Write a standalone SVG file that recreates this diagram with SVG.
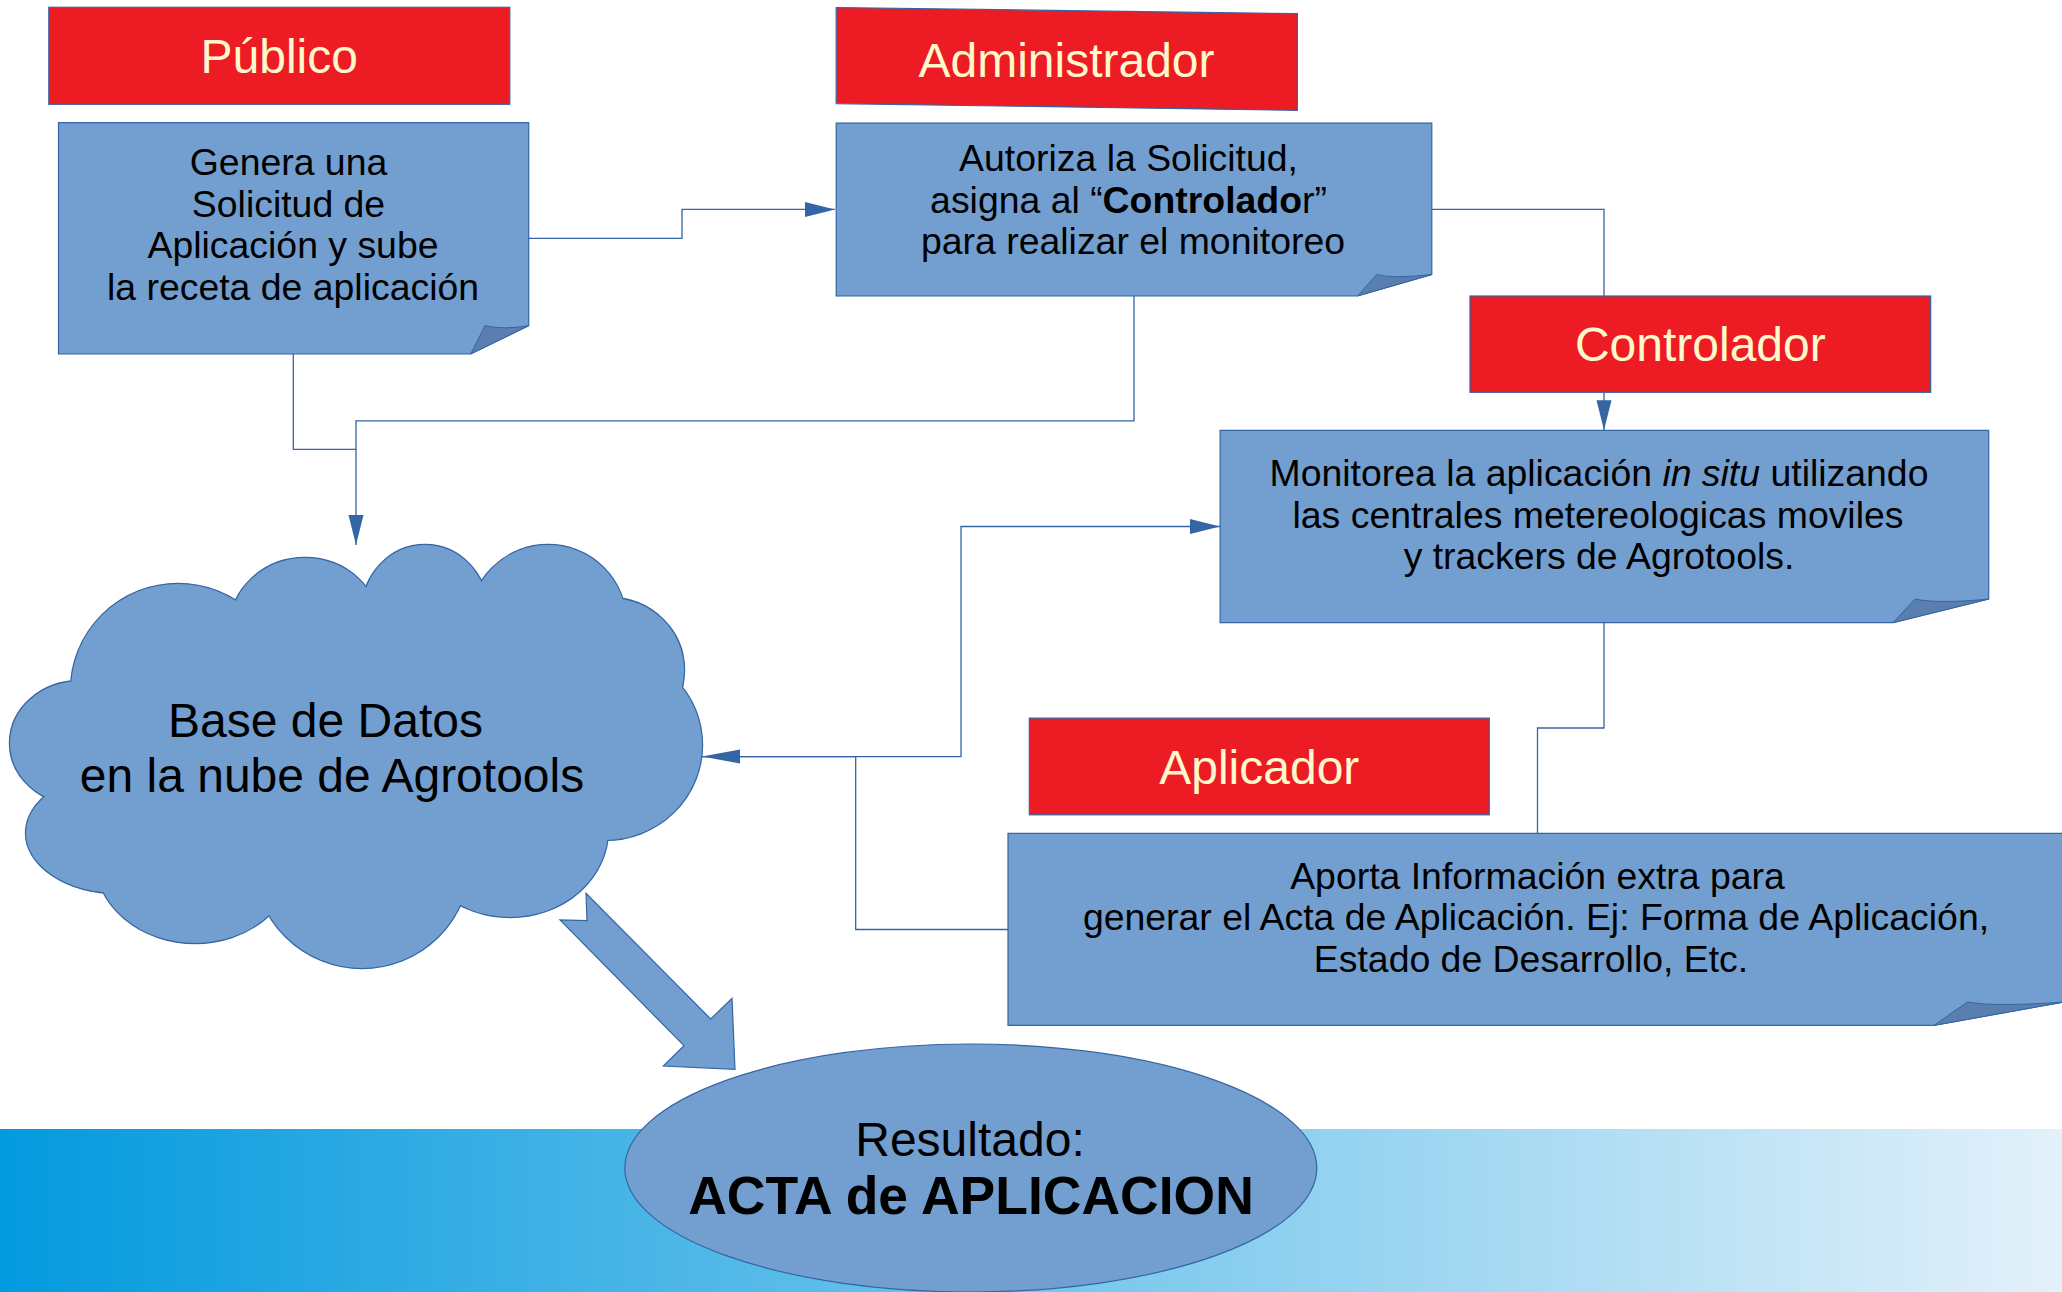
<svg xmlns="http://www.w3.org/2000/svg" xmlns:xlink="http://www.w3.org/1999/xlink" width="2062" height="1292" viewBox="0 0 2062 1292">
<style>
.red{fill:#ed1c24;stroke:#3465a4;stroke-width:1.2}
.box{fill:#729fcf;stroke:#3465a4;stroke-width:1.2}
.fold{fill:#5a7fae;stroke:#3465a4;stroke-width:1}
.hdr{font-family:"Liberation Sans",Arial,sans-serif;font-size:48px;fill:#fff8cc;text-anchor:middle}
.txt{font-family:"Liberation Sans",Arial,sans-serif;font-size:37.4px;fill:#000;text-anchor:middle}
.big{font-family:"Liberation Sans",Arial,sans-serif;font-size:48px;fill:#000;text-anchor:middle}
.acta{font-family:"Liberation Sans",Arial,sans-serif;font-size:53.5px;font-weight:bold;fill:#000;text-anchor:middle}
.con{fill:none;stroke:#3465a4;stroke-width:1.3}
</style>
<defs>
<linearGradient id="band" x1="0" y1="0" x2="1" y2="0">
<stop offset="0" stop-color="#039ade"/>
<stop offset="1" stop-color="#e3f1fa"/>
</linearGradient>
<marker id="arr" viewBox="0 0 30 16" refX="30" refY="8" markerWidth="30" markerHeight="16" markerUnits="userSpaceOnUse" orient="auto">
<path d="M0,0.5 L30,8 L0,15.5 Z" fill="#3465a4"/>
</marker>
<marker id="arrL" viewBox="0 0 38 16" refX="38" refY="8" markerWidth="38" markerHeight="16" markerUnits="userSpaceOnUse" orient="auto">
<path d="M0,1 L38,8 L0,15 Z" fill="#3465a4"/>
</marker>
<g id="cloudShapes">
<ellipse cx="80" cy="743" rx="70" ry="62"/>
<ellipse cx="178" cy="690" rx="107" ry="106"/>
<ellipse cx="305" cy="628" rx="75" ry="70"/>
<ellipse cx="425" cy="612" rx="63" ry="67"/>
<ellipse cx="548" cy="622" rx="78" ry="77"/>
<ellipse cx="610" cy="670" rx="74" ry="72"/>
<ellipse cx="605" cy="745" rx="97" ry="95"/>
<ellipse cx="510" cy="830" rx="98" ry="87"/>
<ellipse cx="362" cy="860" rx="108" ry="108"/>
<ellipse cx="195" cy="858" rx="100" ry="85"/>
<ellipse cx="118" cy="833" rx="92" ry="60"/>
<ellipse cx="360" cy="745" rx="260" ry="150"/>
</g>
</defs>

<rect x="0" y="1129" width="2062" height="163" fill="url(#band)"/>

<g id="connectors">
<path class="con" d="M528.7,238.3 H682 V209.4 H835" marker-end="url(#arr)"/>
<path class="con" d="M1134,296 V420.8 H356 V449.3"/>
<path class="con" d="M293.3,354 V449.3 H356 V545" marker-end="url(#arr)"/>
<path class="con" d="M1431.8,209.4 H1604 V296"/>
<path class="con" d="M1604,392.6 V430.3" marker-end="url(#arr)"/>
<path class="con" d="M702,756.6 H961 V526.5 H1220" marker-end="url(#arr)"/>
<path class="con" d="M1008,929.5 H855.7 V756.6 H702" marker-end="url(#arrL)"/>
<path class="con" d="M1604,622.7 V728 H1537.5 V833.3"/>
</g>

<g id="publico">
<rect class="red" x="48.8" y="7.3" width="461" height="97"/>
<text class="hdr" x="279.2" y="72.8">Público</text>
</g>

<g id="genera">
<path class="box" d="M58.5,122.7 H528.7 V325.7 L470.7,354 H58.5 Z"/>
<path class="fold" d="M470.7,354 L485,325.7 Q503,330 528.7,325.7 Z"/>
<text class="txt"><tspan x="288.5" y="175">Genera una</tspan><tspan x="288.5" y="216.7">Solicitud de</tspan><tspan x="293" y="258.3">Aplicación y sube</tspan><tspan x="293" y="300">la receta de aplicación</tspan></text>
</g>

<g id="administrador">
<polygon class="red" points="836.2,7.5 1297.4,13.7 1297.4,110.3 836.2,103.6"/>
<text class="hdr" x="1066.5" y="77">Administrador</text>
</g>

<g id="autoriza">
<path class="box" d="M836.2,123.1 H1431.8 V274.5 L1357.5,296 H836.2 Z"/>
<path class="fold" d="M1357.5,296 L1376.7,274.5 Q1392,279 1431.8,274.5 Z"/>
<text class="txt"><tspan x="1128.5" y="170.5">Autoriza la Solicitud,</tspan><tspan x="1128.5" y="212.7">asigna al “<tspan font-weight="bold">Controlado</tspan>r”</tspan><tspan x="1133" y="254">para realizar el monitoreo</tspan></text>
</g>

<g id="controlador">
<rect class="red" x="1470" y="296" width="460.7" height="96.3"/>
<text class="hdr" x="1700.3" y="361.3">Controlador</text>
</g>

<g id="monitorea">
<path class="box" d="M1220.1,430.3 H1988.7 V599 L1893,622.7 H1220.1 Z"/>
<path class="fold" d="M1893,622.7 L1915,599 Q1938,604 1988.7,599 Z"/>
<text class="txt"><tspan x="1599" y="485.5">Monitorea la aplicación <tspan font-style="italic">in situ</tspan> utilizando</tspan><tspan x="1598" y="527.5">las centrales metereologicas moviles</tspan><tspan x="1599" y="569">y trackers de Agrotools.</tspan></text>
</g>

<g id="aplicador">
<rect class="red" x="1029.3" y="718.1" width="460" height="96.7"/>
<text class="hdr" x="1259.3" y="783.5">Aplicador</text>
</g>

<g id="aporta">
<path class="box" d="M1008,833.3 H2064 V1002 L1933.8,1025.4 H1008 Z"/>
<path class="fold" d="M1933.8,1025.4 L1967.5,1002 Q1995,1007 2064,1002 Z"/>
<text class="txt"><tspan x="1537.5" y="888.8">Aporta Información extra para</tspan><tspan x="1536" y="930.3">generar el Acta de Aplicación. Ej: Forma de Aplicación,</tspan><tspan x="1531" y="971.8">Estado de Desarrollo, Etc.</tspan></text>
</g>

<g id="cloud">
<use xlink:href="#cloudShapes" href="#cloudShapes" fill="#729fcf" stroke="#3465a4" stroke-width="2.4"/>
<use xlink:href="#cloudShapes" href="#cloudShapes" fill="#729fcf" stroke="none"/>
<text class="big"><tspan x="325.5" y="737.3">Base de Datos</tspan><tspan x="332" y="792.3">en la nube de Agrotools</tspan></text>
</g>

<g id="bigArrow">
<polygon points="586,893.3 587,920.7 560,920 684,1045.7 663.3,1066 735,1069.3 732,998.3 710.7,1019" fill="#729fcf" stroke="#3465a4" stroke-width="1.2"/>
</g>

<g id="resultado">
<ellipse cx="970.8" cy="1168" rx="346" ry="124" fill="#729fcf" stroke="#3465a4" stroke-width="1.2"/>
<text class="big" x="970" y="1156">Resultado:</text>
<text class="acta" x="971" y="1214">ACTA de APLICACION</text>
</g>
</svg>
